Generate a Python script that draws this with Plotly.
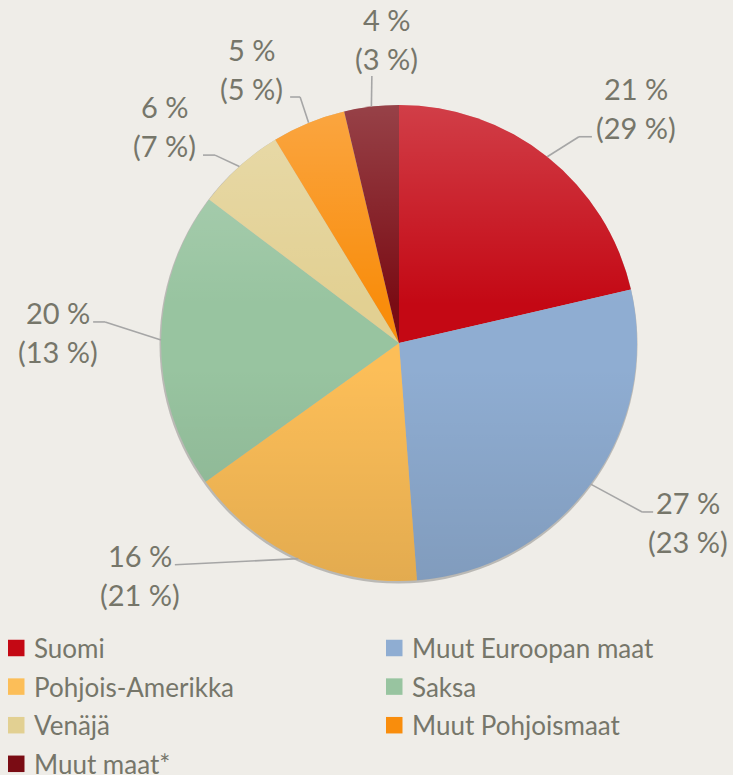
import math
import base64
import plotly.graph_objects as go

# ---------------- data ----------------
categories = ["Suomi", "Muut Euroopan maat", "Pohjois-Amerikka", "Saksa",
              "Venäjä", "Muut Pohjoismaat", "Muut maat*"]
# slice sizes (share, %)
shares = [21.4, 27.4, 16.3, 20.2, 6.0, 5.0, 3.7]
# shares as printed in the labels
share_labels = [21, 27, 16, 20, 6, 5, 4]
# previous-period shares printed in brackets
prev_labels = [29, 23, 21, 13, 7, 5, 3]

colors = ["#C40814", "#8FADD2", "#FCBE58", "#98C4A0", "#E2D092", "#F98D0C", "#7A0C14"]

# ---------------- layout helpers ----------------
W, H = 733, 775
CX, CY, R = 399, 343, 238
BG = "#EFEDE8"
TXT = "#76766A"
FONT = "Lato"

# per label: (label angle, label radius/R, elbow angle, elbow radius/R, tail px)
label_layout = [
    (45.2, 1.402, 41.1, 1.150, 13),
    (121.8, 1.428, 124.8, 1.244, 11),
    (228.2, 1.460, 225.3, 1.325, 0),
    (271.8, 1.434, 274.1, 1.238, -12),
    (312.8, 1.341, 315.6, 1.105, -12),
    (331.8, 1.308, 338.1, 1.114, -10),
    (357.7, 1.280, 354.2, 1.128, 0),
]

# legend grid (two columns)
LEG_X = [8, 386]
LEG_Y0, LEG_DY = 648, 38.6
LEG_SQ = 16.5


def polar(ang_deg, r):
    a = math.radians(ang_deg)
    return CX + r * math.sin(a), CY - r * math.cos(a)


def px(x):
    return x / W


def py(y):
    return 1 - y / H


fig = go.Figure()

fig.add_trace(go.Pie(
    labels=categories, values=shares, sort=False, direction="clockwise",
    rotation=0, marker=dict(colors=colors, line=dict(width=0)),
    textinfo="none", hoverinfo="label+percent", showlegend=False,
    domain=dict(x=[px(CX - R), px(CX + R)], y=[py(CY + R), py(CY - R)]),
))

annotations = []
shapes = []
# soft shadow under the pie
shapes.append(dict(type="circle", xref="paper", yref="paper", layer="below",
                   x0=px(CX - R - 1.5), x1=px(CX + R + 0.5), y0=py(CY + R + 2.5), y1=py(CY - R + 0.5),
                   fillcolor="rgba(0,0,0,0.22)", line=dict(width=0)))

total = sum(shares)
cum = 0
for i, v in enumerate(shares):
    mid = (cum + v / 2) / total * 360
    cum += v
    la, lr, ea, er, tail = label_layout[i]
    lx, ly = polar(la, lr * R)
    ex, ey = polar(ea, er * R)
    sx, sy = polar(mid, R)
    shapes.append(dict(type="line", xref="paper", yref="paper",
                       x0=px(sx), y0=py(sy), x1=px(ex), y1=py(ey),
                       line=dict(color="#A6A6A6", width=1.6)))
    if tail:
        shapes.append(dict(type="line", xref="paper", yref="paper",
                           x0=px(ex), y0=py(ey), x1=px(ex + tail), y1=py(ey),
                           line=dict(color="#A6A6A6", width=1.6)))
    for txt, dy in ((f"{share_labels[i]} %", -19.5), (f"({prev_labels[i]} %)", 19.5)):
        annotations.append(dict(x=px(lx), y=py(ly + dy), xref="paper", yref="paper",
                                text=txt, showarrow=False, xanchor="center", yanchor="middle",
                                font=dict(family=FONT, size=29, color=TXT)))

# legend: squares + text, laid out row by row in two columns
for i, (cat, col) in enumerate(zip(categories, colors)):
    row, c = divmod(i, 2)
    x0 = LEG_X[c]
    yc = LEG_Y0 + row * LEG_DY
    shapes.append(dict(type="rect", xref="paper", yref="paper",
                       x0=px(x0), x1=px(x0 + LEG_SQ),
                       y0=py(yc + LEG_SQ / 2), y1=py(yc - LEG_SQ / 2),
                       fillcolor=col, line=dict(width=0)))
    annotations.append(dict(x=px(x0 + LEG_SQ + 7), y=py(yc), xref="paper", yref="paper",
                            text=cat, showarrow=False, xanchor="left", yanchor="middle",
                            font=dict(family=FONT, size=26, color=TXT)))

# subtle vertical shading over the pie (light top, slightly darker bottom)
svg = ("<svg xmlns='http://www.w3.org/2000/svg' width='476' height='476' viewBox='0 0 476 476'>"
       "<defs><linearGradient id='g' x1='0' y1='0' x2='0' y2='1'>"
       "<stop offset='0' stop-color='#ffffff' stop-opacity='0.22'/>"
       "<stop offset='0.42' stop-color='#ffffff' stop-opacity='0'/>"
       "<stop offset='0.55' stop-color='#000000' stop-opacity='0'/>"
       "<stop offset='1' stop-color='#000000' stop-opacity='0.10'/>"
       "</linearGradient></defs>"
       "<circle cx='238' cy='238' r='238' fill='url(#g)'/></svg>")
src = "data:image/svg+xml;base64," + base64.b64encode(svg.encode()).decode()

fig.update_layout(
    width=W, height=H, margin=dict(l=0, r=0, t=0, b=0),
    paper_bgcolor=BG, plot_bgcolor=BG,
    annotations=annotations, shapes=shapes,
    images=[dict(source=src, xref="paper", yref="paper", x=px(CX - R), y=py(CY - R),
                 sizex=2 * R / W, sizey=2 * R / H, xanchor="left", yanchor="top",
                 sizing="stretch", layer="above")],
    showlegend=False,
    font=dict(family=FONT, color=TXT),
)

fig.write_html("out.html", config={"displayModeBar": False},
               post_script="document.body.style.margin='0px';"
                           "document.body.style.overflow='hidden';"
                           "document.body.style.background='" + BG + "';")
